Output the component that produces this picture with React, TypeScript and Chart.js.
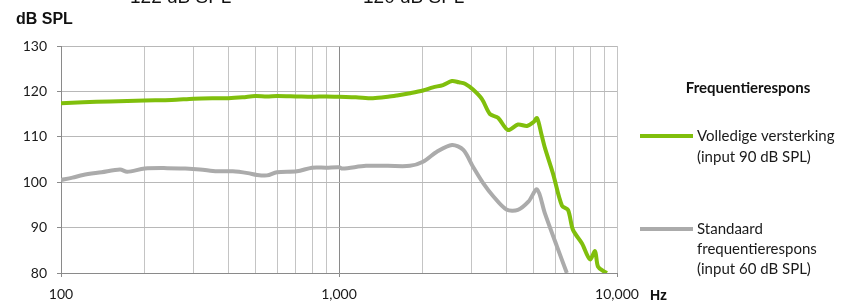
import React, { useEffect, useRef } from "react";
import { Chart, registerables } from "chart.js";

Chart.register(...registerables);

const greenFreqs = [100, 120, 150, 200, 250, 300, 350, 400, 450, 500, 550, 600, 700, 800, 900, 1000, 1150, 1325, 1500, 1617, 1800, 2005, 2178, 2366, 2550, 2700, 2840, 3034, 3268, 3493, 3732, 4055, 4404, 4747, 5000, 5156, 5350, 5508, 5886, 6341, 6664, 6946, 7485, 7998, 8335, 8544, 9000, 9205];
const greenValues = [117.4, 117.6, 117.8, 118.0, 118.1, 118.4, 118.5, 118.5, 118.7, 119.0, 118.9, 119.0, 118.9, 118.8, 118.9, 118.8, 118.7, 118.5, 118.8, 119.1, 119.6, 120.2, 120.9, 121.4, 122.3, 122.0, 121.7, 120.4, 118.3, 115.0, 114.2, 111.5, 112.7, 112.4, 113.2, 114.1, 110.5, 107.5, 101.9, 94.8, 93.9, 89.5, 86.5, 83.0, 84.8, 81.4, 80.3, 80.0];

const grayFreqs = [100, 110, 120, 140, 163, 173, 200, 241, 280, 316, 364, 415, 470, 507, 551, 598, 706, 800, 900, 1000, 1030, 1250, 1500, 1800, 2005, 2250, 2550, 2800, 3034, 3300, 3600, 4000, 4400, 4800, 5156, 5500, 6085, 6600];
const grayValues = [100.5, 101.0, 101.6, 102.2, 102.8, 102.3, 103.0, 103.1, 103.0, 102.8, 102.4, 102.4, 102.0, 101.6, 101.5, 102.2, 102.4, 103.2, 103.2, 103.3, 103.0, 103.6, 103.6, 103.6, 104.5, 106.7, 108.2, 107.1, 103.4, 99.8, 96.8, 94.0, 93.9, 95.7, 98.4, 93.2, 85.8, 80.0];

const xTicks = [100, 200, 300, 400, 500, 600, 700, 800, 900, 1000, 2000, 3000, 4000, 5000, 6000, 7000, 8000, 9000, 10000];
const xMajor = [100, 1000, 10000];
const yTicks = [80, 90, 100, 110, 120, 130];

const greenLabel = ["Volledige versterking", "(input 90 dB SPL)"];
const grayLabel = ["Standaard", "frequentierespons", "(input 60 dB SPL)"];
const legendTitle = "Frequentierespons";
const yTitle = "dB SPL";
const xUnit = "Hz";
const topTexts = ["122 dB SPL", "120 dB SPL"];

const GREEN = "#80bf0c";
const GRAY = "#ababab";
const FONT = "Lato, 'Open Sans', sans-serif";

export default function App() {
  const ref = useRef<HTMLCanvasElement>(null);
  useEffect(() => {
    if (!ref.current) return;
    const overlay = {
      id: "overlay",
      afterDraw(chart: any) {
        const ctx = chart.ctx;
        ctx.save();
        ctx.fillStyle = "#111";
        ctx.textBaseline = "alphabetic";
        ctx.font = `19px 'Liberation Sans', Arial, sans-serif`;
        ctx.textAlign = "left";
        ctx.fillText(topTexts[0], 130, 3);
        ctx.fillText(topTexts[1], 363, 3);
        ctx.textBaseline = "middle";
        ctx.font = `bold 16px 'Liberation Sans', Arial, sans-serif`;
        ctx.fillText(yTitle, 16, 20);
        ctx.font = `bold 14px 'Liberation Sans', Arial, sans-serif`;
        ctx.fillText(xUnit, 650, 296);
        // legend
        ctx.font = `bold 15px ${FONT}`;
        ctx.textAlign = "center";
        ctx.fillText(legendTitle, 748, 88);
        ctx.lineWidth = 4;
        ctx.lineCap = "butt";
        ctx.strokeStyle = GREEN;
        ctx.beginPath();
        ctx.moveTo(640, 136);
        ctx.lineTo(693, 136);
        ctx.stroke();
        ctx.strokeStyle = GRAY;
        ctx.beginPath();
        ctx.moveTo(640, 229);
        ctx.lineTo(693, 229);
        ctx.stroke();
        ctx.font = `15px ${FONT}`;
        ctx.textAlign = "left";
        ctx.fillStyle = "#1a1a1a";
        greenLabel.forEach((t, i) => ctx.fillText(t, 697, 136 + i * 21));
        grayLabel.forEach((t, i) => ctx.fillText(t, 697, 229 + i * 20));
        ctx.restore();
      },
    };
    const chart = new Chart(ref.current, {
      type: "line",
      data: {
        datasets: [
          {
            label: greenLabel.join(" "),
            data: greenFreqs.map((f, i) => ({ x: f, y: greenValues[i] })),
            borderColor: GREEN,
            borderWidth: 4,
            pointRadius: 0,
            tension: 0.3,
            fill: false,
          },
          {
            label: grayLabel.join(" "),
            data: grayFreqs.map((f, i) => ({ x: f, y: grayValues[i] })),
            borderColor: GRAY,
            borderWidth: 4,
            pointRadius: 0,
            tension: 0.3,
            fill: false,
          },
        ],
      },
      options: {
        animation: false,
        responsive: false,
        events: [],
        layout: { padding: { left: 0, right: 236, top: 46, bottom: 0 } },
        plugins: { legend: { display: false }, tooltip: { enabled: false } },
        scales: {
          x: {
            type: "logarithmic",
            min: 100,
            max: 10000,
            afterBuildTicks: (scale: any) => {
              scale.ticks = xTicks.map((v) => ({ value: v }));
            },
            afterFit: (scale: any) => {
              scale.height = 31;
            },
            ticks: {
              autoSkip: false,
              maxRotation: 0,
              padding: 9,
              color: "#1a1a1a",
              font: { family: FONT, size: 14 },
              callback: (v: any) => (xMajor.includes(Number(v)) ? Number(v).toLocaleString("en-US") : ""),
            },
            grid: {
              color: (c: any) => (c.tick && c.tick.value === 1000 ? "#8a8a8a" : "#c4c4c4"),
              lineWidth: 1,
              tickLength: 4,
              tickColor: (c: any) => (c.tick && xMajor.includes(c.tick.value) ? "#8a8a8a" : "rgba(0,0,0,0)"),
            },
            border: { color: "#8a8a8a" },
          },
          y: {
            min: 80,
            max: 130,
            afterBuildTicks: (scale: any) => {
              scale.ticks = yTicks.map((v) => ({ value: v }));
            },
            afterFit: (scale: any) => {
              scale.width = 61;
            },
            ticks: {
              padding: 10,
              color: "#1a1a1a",
              font: { family: FONT, size: 14 },
            },
            grid: { color: "#b8b8b8", lineWidth: 1, tickLength: 4, tickColor: "#8a8a8a" },
            border: { color: "#8a8a8a" },
          },
        },
      },
      plugins: [overlay],
    } as any);
    return () => chart.destroy();
  }, []);
  return (
    <div style={{ position: "fixed", left: 0, top: 0, width: 853, height: 304, background: "#fff" }}>
      <canvas ref={ref} width={853} height={304} style={{ width: 853, height: 304 }} />
    </div>
  );
}
